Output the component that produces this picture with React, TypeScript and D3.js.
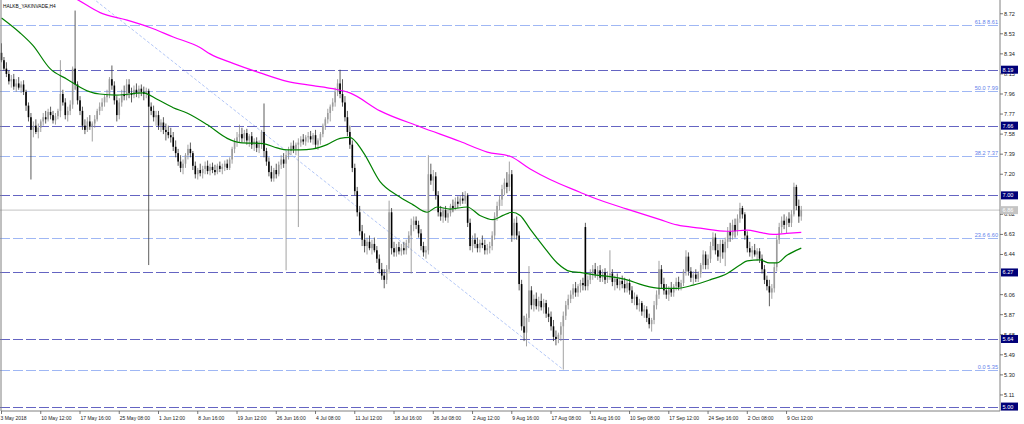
import * as d3 from 'd3'

// H4 candles, [open, high, low, close]
const candles: [number, number, number, number][] = [
  [8.35, 8.44, 8.26, 8.28], [8.28, 8.31, 8.18, 8.2], [8.2, 8.26, 8.12, 8.15], [8.15, 8.18, 8.05, 8.08],
  [8.08, 8.14, 8.02, 8.1], [8.1, 8.15, 8.0, 8.03], [8.03, 8.1, 7.98, 8.06], [8.06, 8.12, 8.0, 8.02],
  [8.02, 8.08, 7.97, 8.05], [8.05, 8.09, 7.95, 7.98], [7.98, 8.0, 7.8, 7.85], [7.85, 7.88, 7.7, 7.74],
  [7.74, 7.78, 7.15, 7.62], [7.62, 7.7, 7.55, 7.66], [7.66, 7.72, 7.58, 7.6], [7.6, 7.68, 7.54, 7.64],
  [7.64, 7.72, 7.6, 7.7], [7.7, 7.78, 7.66, 7.74], [7.74, 7.8, 7.68, 7.72], [7.72, 7.82, 7.7, 7.79],
  [7.79, 7.84, 7.72, 7.76], [7.76, 7.8, 7.68, 7.71], [7.71, 7.78, 7.67, 7.75], [7.75, 7.82, 7.72, 7.8],
  [7.8, 8.28, 7.74, 7.96], [7.96, 8.0, 7.85, 7.88], [7.88, 7.92, 7.72, 7.76], [7.76, 7.84, 7.7, 7.8],
  [7.8, 7.9, 7.76, 7.86], [7.86, 8.22, 7.82, 8.2], [8.2, 8.75, 8.0, 8.05], [8.05, 8.08, 7.86, 7.9],
  [7.9, 7.94, 7.76, 7.8], [7.8, 7.84, 7.62, 7.66], [7.66, 7.72, 7.58, 7.62], [7.62, 7.74, 7.6, 7.7],
  [7.7, 7.76, 7.62, 7.65], [7.65, 7.7, 7.51, 7.68], [7.68, 7.76, 7.64, 7.72], [7.72, 7.82, 7.7, 7.8],
  [7.8, 7.88, 7.76, 7.84], [7.84, 7.92, 7.8, 7.88], [7.88, 7.96, 7.84, 7.93], [7.93, 8.0, 7.88, 7.96],
  [7.96, 8.12, 7.92, 8.1], [8.1, 8.23, 8.0, 8.04], [8.04, 8.08, 7.86, 7.9], [7.9, 7.94, 7.7, 7.76],
  [7.76, 7.92, 7.72, 7.88], [7.88, 8.0, 7.84, 7.96], [7.96, 8.04, 7.9, 7.94], [7.94, 8.1, 7.9, 8.05],
  [8.05, 8.1, 7.92, 7.97], [7.97, 8.02, 7.88, 7.95], [7.95, 8.04, 7.92, 8.0], [8.0, 8.06, 7.93, 7.97],
  [7.97, 8.04, 7.92, 8.01], [8.01, 8.05, 7.94, 7.98], [7.98, 8.03, 7.9, 7.96], [7.96, 8.02, 7.92, 7.99],
  [7.99, 8.01, 6.34, 7.84], [7.84, 7.88, 7.76, 7.8], [7.8, 7.85, 7.7, 7.74], [7.74, 7.8, 7.66, 7.76],
  [7.76, 7.8, 7.62, 7.66], [7.66, 7.72, 7.6, 7.69], [7.69, 7.74, 7.58, 7.62], [7.62, 7.68, 7.52, 7.6],
  [7.6, 7.66, 7.54, 7.57], [7.57, 7.64, 7.5, 7.55], [7.55, 7.6, 7.42, 7.46], [7.46, 7.52, 7.36, 7.4],
  [7.4, 7.44, 7.28, 7.32], [7.32, 7.38, 7.22, 7.26], [7.26, 7.34, 7.2, 7.3], [7.3, 7.4, 7.26, 7.38],
  [7.38, 7.48, 7.34, 7.44], [7.44, 7.5, 7.36, 7.4], [7.4, 7.42, 7.24, 7.28], [7.28, 7.32, 7.16, 7.2],
  [7.2, 7.26, 7.15, 7.24], [7.24, 7.3, 7.18, 7.21], [7.21, 7.28, 7.16, 7.25], [7.25, 7.32, 7.2, 7.28],
  [7.28, 7.33, 7.2, 7.23], [7.23, 7.3, 7.19, 7.27], [7.27, 7.31, 7.21, 7.24], [7.24, 7.29, 7.19, 7.22],
  [7.22, 7.3, 7.2, 7.28], [7.28, 7.32, 7.22, 7.25], [7.25, 7.3, 7.2, 7.27], [7.27, 7.33, 7.23, 7.3],
  [7.3, 7.34, 7.24, 7.26], [7.26, 7.36, 7.24, 7.34], [7.34, 7.46, 7.3, 7.44], [7.44, 7.54, 7.4, 7.51],
  [7.51, 7.6, 7.46, 7.55], [7.55, 7.67, 7.5, 7.58], [7.58, 7.64, 7.5, 7.54], [7.54, 7.62, 7.5, 7.59],
  [7.59, 7.63, 7.48, 7.52], [7.52, 7.58, 7.46, 7.56], [7.56, 7.6, 7.44, 7.48], [7.48, 7.54, 7.42, 7.51],
  [7.51, 7.55, 7.41, 7.45], [7.45, 7.52, 7.4, 7.49], [7.49, 7.62, 7.44, 7.6], [7.6, 7.87, 7.36, 7.42],
  [7.42, 7.45, 7.28, 7.32], [7.32, 7.36, 7.18, 7.22], [7.22, 7.28, 7.13, 7.16], [7.16, 7.26, 7.13, 7.24],
  [7.24, 7.3, 7.16, 7.2], [7.2, 7.32, 7.18, 7.29], [7.29, 7.38, 7.25, 7.34], [7.34, 7.4, 7.26, 7.3],
  [7.3, 7.42, 6.29, 7.38], [7.38, 7.46, 7.34, 7.42], [7.42, 7.5, 7.38, 7.47], [7.47, 7.52, 7.4, 7.44],
  [7.44, 7.5, 7.38, 7.48], [7.48, 7.54, 6.7, 7.5], [7.5, 7.56, 7.46, 7.53], [7.53, 7.58, 7.48, 7.51],
  [7.51, 7.57, 7.47, 7.55], [7.55, 7.6, 7.5, 7.56], [7.56, 7.61, 7.5, 7.53], [7.53, 7.59, 7.48, 7.57],
  [7.57, 7.62, 7.44, 7.48], [7.48, 7.54, 7.43, 7.52], [7.52, 7.6, 7.48, 7.58], [7.58, 7.68, 7.55, 7.66],
  [7.66, 7.74, 7.62, 7.72], [7.72, 7.82, 7.68, 7.78], [7.78, 7.86, 7.7, 7.84], [7.84, 7.92, 7.8, 7.88],
  [7.88, 8.02, 7.84, 7.98], [7.98, 8.1, 7.94, 8.06], [8.06, 8.19, 7.92, 7.96], [7.96, 8.1, 7.84, 7.88],
  [7.88, 7.94, 7.7, 7.74], [7.74, 7.8, 7.56, 7.6], [7.6, 7.66, 7.44, 7.48], [7.48, 7.52, 7.22, 7.26],
  [7.26, 7.3, 7.0, 7.04], [7.04, 7.08, 6.8, 6.84], [6.84, 6.9, 6.62, 6.66], [6.66, 6.72, 6.52, 6.58],
  [6.58, 6.64, 6.46, 6.52], [6.52, 6.6, 6.44, 6.56], [6.56, 6.62, 6.48, 6.5], [6.5, 6.58, 6.44, 6.54],
  [6.54, 6.6, 6.46, 6.48], [6.48, 6.52, 6.36, 6.4], [6.4, 6.44, 6.26, 6.3], [6.3, 6.36, 6.2, 6.24],
  [6.24, 6.3, 6.12, 6.2], [6.2, 6.34, 6.16, 6.3], [6.3, 6.95, 6.26, 6.84], [6.84, 6.88, 6.44, 6.5],
  [6.5, 6.56, 6.42, 6.46], [6.46, 6.54, 6.42, 6.51], [6.51, 6.56, 6.44, 6.47], [6.47, 6.54, 6.43, 6.5],
  [6.5, 6.56, 6.44, 6.48], [6.48, 6.58, 6.44, 6.55], [6.55, 6.66, 6.5, 6.62], [6.62, 6.78, 6.26, 6.72],
  [6.72, 6.8, 6.66, 6.76], [6.76, 6.8, 6.68, 6.72], [6.72, 6.76, 6.6, 6.64], [6.64, 6.68, 6.48, 6.52],
  [6.52, 6.56, 6.42, 6.46], [6.46, 6.52, 6.4, 6.48], [6.48, 7.38, 6.44, 7.2], [7.2, 7.3, 7.1, 7.14],
  [7.14, 7.24, 7.04, 7.18], [7.18, 7.22, 6.96, 7.0], [7.0, 7.04, 6.8, 6.84], [6.84, 6.9, 6.76, 6.8],
  [6.8, 6.88, 6.74, 6.86], [6.86, 6.9, 6.76, 6.79], [6.79, 6.86, 6.74, 6.83], [6.83, 6.92, 6.8, 6.9],
  [6.9, 6.96, 6.84, 6.88], [6.88, 6.98, 6.86, 6.94], [6.94, 6.99, 6.88, 6.92], [6.92, 7.0, 6.9, 6.97],
  [6.97, 7.03, 6.92, 6.95], [6.95, 7.04, 6.92, 7.0], [7.0, 7.02, 6.7, 6.74], [6.74, 6.78, 6.48, 6.52],
  [6.52, 6.62, 6.46, 6.58], [6.58, 6.64, 6.5, 6.54], [6.54, 6.6, 6.46, 6.5], [6.5, 6.58, 6.46, 6.55],
  [6.55, 6.62, 6.5, 6.53], [6.53, 6.58, 6.44, 6.48], [6.48, 6.54, 6.44, 6.5], [6.5, 6.56, 6.45, 6.52],
  [6.52, 6.66, 6.48, 6.62], [6.62, 6.84, 6.58, 6.8], [6.8, 6.94, 6.76, 6.9], [6.9, 7.0, 6.86, 6.96],
  [6.96, 7.1, 6.9, 7.06], [7.06, 7.16, 7.0, 7.12], [7.12, 7.22, 7.02, 7.08], [7.08, 7.32, 7.04, 7.2],
  [7.2, 7.24, 6.56, 6.62], [6.62, 6.78, 6.58, 6.74], [6.74, 6.8, 6.58, 6.62], [6.62, 6.66, 6.1, 6.16],
  [6.16, 6.2, 5.72, 5.76], [5.76, 5.86, 5.62, 5.7], [5.7, 5.88, 5.57, 5.84], [5.84, 6.33, 5.8, 6.1],
  [6.1, 6.14, 5.92, 5.96], [5.96, 6.06, 5.9, 6.02], [6.02, 6.08, 5.92, 5.95], [5.95, 6.04, 5.9, 6.0],
  [6.0, 6.07, 5.91, 5.94], [5.94, 6.02, 5.88, 5.98], [5.98, 6.01, 5.84, 5.88], [5.88, 5.94, 5.8, 5.85],
  [5.85, 5.9, 5.72, 5.76], [5.76, 5.82, 5.62, 5.66], [5.66, 5.72, 5.58, 5.64], [5.64, 5.7, 5.6, 5.68],
  [5.68, 5.8, 5.62, 5.76], [5.76, 5.9, 5.35, 5.86], [5.86, 6.0, 5.82, 5.96], [5.96, 6.06, 5.92, 6.02],
  [6.02, 6.1, 5.98, 6.06], [6.06, 6.16, 6.02, 6.12], [6.12, 6.18, 6.04, 6.08], [6.08, 6.16, 6.04, 6.14],
  [6.14, 6.2, 6.08, 6.17], [6.17, 6.22, 6.1, 6.15], [6.7, 6.74, 6.1, 6.14], [6.14, 6.24, 6.1, 6.2],
  [6.2, 6.3, 6.16, 6.26], [6.26, 6.34, 6.2, 6.3], [6.3, 6.36, 6.22, 6.25], [6.25, 6.33, 6.2, 6.29],
  [6.29, 6.34, 6.18, 6.22], [6.22, 6.3, 6.18, 6.27], [6.27, 6.31, 6.16, 6.2], [6.2, 6.28, 6.17, 6.24],
  [6.24, 6.48, 6.2, 6.26], [6.26, 6.3, 6.14, 6.18], [6.18, 6.24, 6.1, 6.21], [6.21, 6.26, 6.12, 6.15],
  [6.15, 6.22, 6.1, 6.19], [6.19, 6.24, 6.12, 6.16], [6.16, 6.22, 6.08, 6.12], [6.12, 6.2, 6.08, 6.17],
  [6.17, 6.21, 6.06, 6.1], [6.1, 6.14, 5.98, 6.02], [6.02, 6.08, 5.96, 6.04], [6.04, 6.06, 5.92, 5.96],
  [5.96, 6.02, 5.9, 5.98], [5.98, 6.0, 5.86, 5.9], [5.9, 5.96, 5.84, 5.92], [5.92, 5.95, 5.8, 5.84],
  [5.84, 5.88, 5.74, 5.78], [5.78, 5.84, 5.71, 5.82], [5.82, 6.0, 5.78, 5.96], [5.96, 6.1, 5.92, 6.06],
  [6.06, 6.38, 6.02, 6.3], [6.3, 6.34, 6.12, 6.16], [6.16, 6.22, 6.06, 6.1], [6.1, 6.16, 6.02, 6.06],
  [6.06, 6.14, 6.0, 6.12], [6.12, 6.18, 6.04, 6.08], [6.08, 6.16, 6.04, 6.14], [6.14, 6.22, 6.1, 6.18],
  [6.18, 6.23, 6.1, 6.13], [6.13, 6.2, 6.1, 6.17], [6.17, 6.3, 6.14, 6.28], [6.28, 6.48, 6.24, 6.42],
  [6.42, 6.46, 6.24, 6.28], [6.28, 6.32, 6.18, 6.22], [6.22, 6.28, 6.16, 6.25], [6.25, 6.3, 6.18, 6.21],
  [6.21, 6.28, 6.18, 6.26], [6.26, 6.36, 6.22, 6.34], [6.34, 6.48, 6.3, 6.44], [6.44, 6.47, 6.3, 6.34],
  [6.34, 6.44, 6.3, 6.4], [6.4, 6.56, 6.36, 6.52], [6.52, 6.65, 6.48, 6.6], [6.6, 6.64, 6.44, 6.48],
  [6.48, 6.54, 6.38, 6.42], [6.42, 6.58, 6.36, 6.54], [6.54, 6.58, 6.4, 6.46], [6.46, 6.6, 6.33, 6.56],
  [6.56, 6.7, 6.5, 6.66], [6.66, 6.74, 6.56, 6.62], [6.62, 6.77, 6.58, 6.72], [6.72, 6.78, 6.6, 6.66],
  [6.66, 6.82, 6.62, 6.78], [6.78, 6.93, 6.74, 6.88], [6.88, 6.9, 6.78, 6.82], [6.82, 6.84, 6.58, 6.62],
  [6.62, 6.66, 6.46, 6.5], [6.5, 6.56, 6.42, 6.46], [6.46, 6.52, 6.4, 6.48], [6.48, 6.54, 6.42, 6.44],
  [6.44, 6.5, 6.38, 6.47], [6.47, 6.5, 6.36, 6.4], [6.4, 6.44, 6.26, 6.3], [6.3, 6.34, 6.16, 6.2],
  [6.2, 6.24, 6.1, 6.14], [6.14, 6.2, 5.95, 6.08], [6.08, 6.16, 6.02, 6.12], [6.12, 6.36, 6.08, 6.32],
  [6.32, 6.62, 6.28, 6.58], [6.58, 6.74, 6.54, 6.7], [6.7, 6.8, 6.64, 6.76], [6.76, 6.82, 6.68, 6.72],
  [6.72, 6.8, 6.64, 6.78], [6.78, 6.84, 6.7, 6.74], [6.74, 6.86, 6.7, 6.82], [6.82, 7.12, 6.8, 7.08],
  [7.08, 7.1, 6.86, 6.9], [6.9, 6.96, 6.74, 6.8], [6.8, 6.9, 6.76, 6.86],
]

// moving averages sampled along the chart: [bar index, price]
const maFast: [number, number][] = [
  [0, 8.68], [7.5, 8.54], [12.8, 8.42], [19.8, 8.2], [26.7, 8.1], [34.9, 7.99], [40, 7.96], [47, 7.95],
  [57.7, 7.97], [63.4, 7.91], [70, 7.83], [75.6, 7.78], [83.8, 7.67], [92, 7.54], [97.2, 7.5], [106.6, 7.49],
  [112.3, 7.45], [116.4, 7.43], [121.7, 7.43], [127, 7.44], [132.7, 7.48], [138, 7.54], [142, 7.55],
  [147.4, 7.41], [154.3, 7.13], [161.2, 7.0], [167.8, 6.91], [173.5, 6.84], [177.5, 6.89], [182.8, 6.87],
  [189.8, 6.89], [195, 6.81], [200.4, 6.77], [204.4, 6.81], [208, 6.84], [211.4, 6.81], [215.5, 6.68],
  [220.8, 6.52], [226.5, 6.36], [231.8, 6.28], [235.8, 6.27], [241, 6.25], [248, 6.23], [255, 6.2],
  [261.5, 6.15], [268.5, 6.12], [275.4, 6.12], [281.9, 6.15], [288.8, 6.2], [295.8, 6.26], [301, 6.34],
  [304, 6.38], [309, 6.39], [313, 6.36], [316, 6.36], [320, 6.43], [326, 6.5],
]
const maSlow: [number, number][] = [
  [0, 9.25], [15, 9.05], [31.2, 8.85], [40.2, 8.73], [51.2, 8.66], [60.5, 8.59], [70, 8.5], [80.9, 8.4],
  [85, 8.34], [94.4, 8.25], [105.4, 8.16], [116.4, 8.08], [127, 8.04], [135.1, 8.01], [142, 7.97],
  [154.3, 7.8], [170.6, 7.65], [187, 7.51], [198, 7.41], [207.3, 7.37], [215.5, 7.25], [223.6, 7.15],
  [235.8, 7.03], [241, 6.98], [255, 6.87], [268.5, 6.77], [275.4, 6.72], [284.8, 6.69], [295.8, 6.66],
  [304, 6.67], [309, 6.65], [314.5, 6.63], [320, 6.64], [326, 6.65],
]

const fibRatios = ['61.8', '50.0', '38.2', '23.6', '0.0']
const fibPrices = [8.61, 7.99, 7.37, 6.6, 5.35]
const fibAnchors: [number, number][] = [[-59, 10.63], [229, 5.35]]
const hLevels = [8.19, 7.66, 7.0, 6.27, 5.64, 5.0]
const bidPrice = 6.86
const priceTicks = ['8.72', '8.53', '8.34', '8.15', '7.96', '7.77', '7.58', '7.39', '7.20', '7.01',
  '6.82', '6.63', '6.44', '6.25', '6.06', '5.87', '5.68', '5.49', '5.30', '5.11']
const dateLabels = ['3 May 2018', '10 May 12:00', '17 May 16:00', '25 May 08:00', '1 Jun 12:00', '8 Jun 16:00',
  '19 Jun 12:00', '26 Jun 16:00', '4 Jul 08:00', '11 Jul 12:00', '18 Jul 16:00', '26 Jul 08:00', '2 Aug 12:00',
  '9 Aug 16:00', '17 Aug 08:00', '31 Aug 16:00', '10 Sep 08:00', '17 Sep 12:00', '24 Sep 16:00', '2 Oct 08:00',
  '9 Oct 12:00']
const symbolTitle = 'HALKB_YAKINVADE,H4'

const W = 1024
const H = 424
const plotR = 1000
const plotB = 411
const font = '"Liberation Sans", Arial, sans-serif'

export default function App() {
  const x = d3.scaleLinear().domain([0, 407]).range([1.5, plotR])
  const y = d3.scaleLinear().domain([4.958, 8.85]).range([plotB, 0])
  const py = (v: number) => Math.round(y(v)) + 0.5 // crisp 1px horizontals
  const line = d3.line<[number, number]>().x((d) => x(d[0])).y((d) => y(d[1])).curve(d3.curveMonotoneX)
  const bodyW = 1.6
  const boxLevels = [...hLevels, bidPrice]
  // axis labels hidden under a level box are not drawn
  const visibleTicks = priceTicks.filter((t) => !boxLevels.some((p) => Math.abs(p - +t) < 0.025))

  return (
    <svg width={W} height={H} style={{ position: 'absolute', left: 0, top: 0, background: '#fff' }}>
      <defs>
        <clipPath id="plot">
          <rect x={0} y={0} width={plotR} height={plotB} />
        </clipPath>
      </defs>
      <rect x={0} y={0} width={W} height={H} fill="#fff" />

      <g clipPath="url(#plot)">
        {/* fibo levels */}
        {fibPrices.map((p, i) => (
          <g key={'f' + i}>
            <line x1={0} x2={plotR} y1={py(p)} y2={py(p)} stroke="#9fb7f4" strokeWidth={1} strokeDasharray="10 3" />
            <text x={plotR - 2} y={py(p) - 2} textAnchor="end" fontSize={5.6} fontFamily={font} fill="#5f82ea">
              {fibRatios[i]} {p.toFixed(2)}
            </text>
          </g>
        ))}
        <line
          x1={x(fibAnchors[0][0])} y1={y(fibAnchors[0][1])}
          x2={x(fibAnchors[1][0])} y2={y(fibAnchors[1][1])}
          stroke="#9fb7f4" strokeWidth={0.8} strokeDasharray="3 2"
        />
        {/* horizontal levels */}
        {hLevels.map((p) => (
          <line key={'h' + p} x1={0} x2={plotR} y1={py(p)} y2={py(p)} stroke="#6464c2" strokeWidth={1} strokeDasharray="10 3" />
        ))}
        {/* bid line */}
        <line x1={0} x2={plotR} y1={y(bidPrice)} y2={y(bidPrice)} stroke="#cfcfcf" strokeWidth={1.4} />

        {/* candles */}
        {candles.map(([o, h, l, c], i) => {
          const cx = x(i)
          const up = c >= o
          const top = y(Math.max(o, c))
          const bh = Math.max(0.8, y(Math.min(o, c)) - top)
          return (
            <g key={i}>
              <line x1={cx} x2={cx} y1={y(h)} y2={y(l)} stroke={up ? '#8a8a8a' : '#333'} strokeWidth={0.8} />
              <rect x={cx - bodyW / 2} y={top} width={bodyW} height={bh} fill={up ? '#9c9c9c' : '#000'} />
            </g>
          )
        })}

        {/* moving averages */}
        <path d={line(maSlow) ?? ''} fill="none" stroke="#ff00ff" strokeWidth={1.2} />
        <path d={line(maFast) ?? ''} fill="none" stroke="#008000" strokeWidth={1.2} />
      </g>

      {/* frame */}
      <line x1={1} x2={1} y1={0} y2={plotB} stroke="#808080" strokeWidth={1} />
      <line x1={plotR} x2={plotR} y1={0} y2={plotB} stroke="#808080" strokeWidth={1} />
      <line x1={1} x2={plotR} y1={plotB} y2={plotB} stroke="#808080" strokeWidth={1} />

      <text x={3} y={8} fontSize={4.8} fontFamily={font} fill="#000">{symbolTitle}</text>

      {/* price axis */}
      {visibleTicks.map((t) => (
        <g key={t}>
          <line x1={plotR} x2={plotR + 3} y1={y(+t)} y2={y(+t)} stroke="#555" strokeWidth={0.8} />
          <text x={plotR + 4} y={y(+t) + 2} fontSize={5.6} fontFamily={font} fill="#222">{t}</text>
        </g>
      ))}
      {hLevels.map((p) => (
        <g key={'b' + p}>
          <rect x={plotR + 1} y={y(p) - 4} width={17} height={8} fill="#000078" />
          <text x={plotR + 2.5} y={y(p) + 2} fontSize={5.6} fontFamily={font} fill="#fff">{p.toFixed(2)}</text>
        </g>
      ))}
      <rect x={plotR + 1} y={y(bidPrice) - 4} width={17} height={8} fill="#c4c4c4" />
      <text x={plotR + 2.5} y={y(bidPrice) + 2} fontSize={5.6} fontFamily={font} fill="#fff">{bidPrice.toFixed(2)}</text>

      {/* time axis */}
      {dateLabels.map((t, k) => (
        <g key={t}>
          <line x1={x(k * 16)} x2={x(k * 16)} y1={plotB} y2={plotB + 3} stroke="#555" strokeWidth={0.8} />
          <text x={x(k * 16) - (k === 0 ? 1 : -0.5)} y={plotB + 8.5} fontSize={5} fontFamily={font} fill="#222">{t}</text>
        </g>
      ))}
    </svg>
  )
}
